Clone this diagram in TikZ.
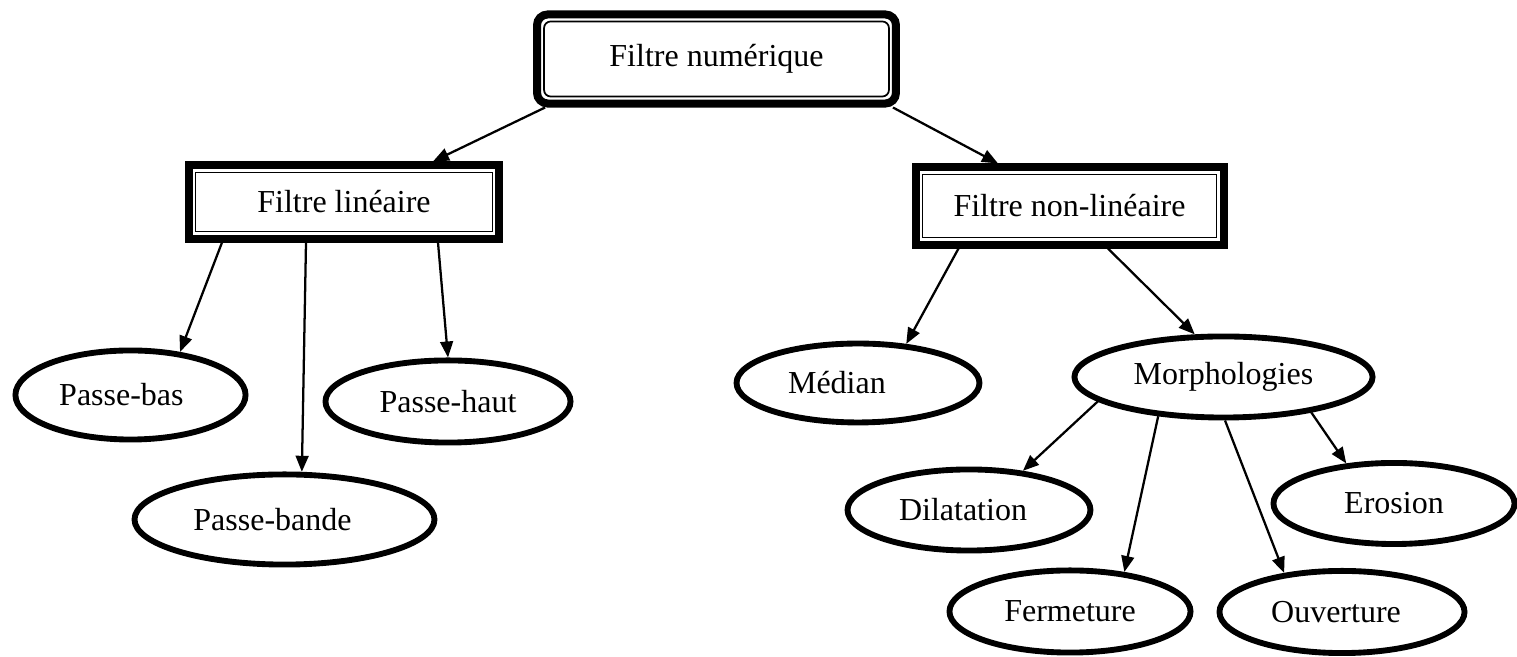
\documentclass[tikz,border=0pt]{standalone}
\usepackage{fontspec}
\setmainfont{Liberation Serif}
\usepackage{tikz}
\usetikzlibrary{arrows.meta}
\usetikzlibrary{shapes.geometric}
\usetikzlibrary{calc}
\tikzset{cadre/.style = {draw, line width = 3pt, inner sep = 0, font = \fontsize{12}{14}\selectfont}}
\tikzset{liseret/.style = {draw, line width = 0.65pt}}
\tikzset{bulle/.style = {draw, ellipse, line width = 2.2pt, inner sep = 0, font = \fontsize{12}{14}\selectfont}}
\tikzset{fleche/.style = {-{Triangle[length = 6pt, width = 4.8pt]}, line width = 0.85pt}}

\begin{document}
\begin{tikzpicture}[x = 0.375pt, y = -0.375pt]
    \useasboundingbox (0, 0) rectangle (1517, 657);

    % filtres
    \node [cadre, rounded corners = 4pt, minimum width = 134.6pt, minimum height = 33.4pt] (num) at (716.5, 59) {Filtre numérique};
    \node [cadre, minimum width = 116.6pt, minimum height = 27.4pt] (lin) at (344, 202) {Filtre linéaire};
    \node [cadre, minimum width = 115.5pt, minimum height = 28.9pt] (nonlin) at (1069.5, 206) {Filtre non-linéaire};

    \draw [liseret, rounded corners = 2.5pt] ($(num.north west) + (11, 11)$) rectangle ($(num.south east) - (11, 11)$);
    \foreach \n in {lin, nonlin}
      \draw [liseret] ($(\n.north west) + (11, 11)$) rectangle ($(\n.south east) - (11, 11)$);

    % lineaires
    \node [bulle, minimum width = 86.3pt, minimum height = 33.4pt] (pbas) at (130.5, 395) {\hspace*{-6.8pt}Passe-bas};
    \node [bulle, minimum width = 112.5pt, minimum height = 33.8pt] (pbande) at (284.5, 519.5) {\hspace*{-9pt}Passe-bande};
    \node [bulle, minimum width = 91.9pt, minimum height = 30.8pt] (phaut) at (448, 401.5) {Passe-haut};

    % non lineaires
    \node [bulle, minimum width = 91.1pt, minimum height = 29.6pt] (median) at (858, 383) {\hspace*{-15.8pt}Médian};
    \node [bulle, minimum width = 111.8pt, minimum height = 30.4pt] (morph) at (1223.5, 377) {Morphologies};
    \node [bulle, minimum width = 91.1pt, minimum height = 30.4pt] (dil) at (969, 510) {\hspace*{-4.5pt}Dilatation};
    \node [bulle, minimum width = 90.4pt, minimum height = 30.4pt] (eros) at (1394, 503.5) {Erosion};
    \node [bulle, minimum width = 90.4pt, minimum height = 30.8pt] (ferm) at (1070, 611.5) {Fermeture};
    \node [bulle, minimum width = 91.9pt, minimum height = 30.8pt] (ouv) at (1342, 612) {\hspace*{-4.5pt}Ouverture};

    \draw [fleche] ($(num.south west) + (12, 0)$) -- ($(lin.north) + (89, 0)$);
    \draw [fleche] ($(num.south east) + (-7, 0)$) -- ($(nonlin.north) + (-71.5, 0)$);

    \draw [fleche] ($(lin.south) + (-122, 0)$) -- (pbas.41);
    \draw [fleche] ($(lin.south) + (-38, 0)$) -- (pbande.70);
    \draw [fleche] ($(lin.south) + (94, 0)$) -- (phaut.north);

    \draw [fleche] ($(nonlin.south) + (-111, 0)$) -- (median.39);
    \draw [fleche] ($(nonlin.south) + (38.5, 0)$) -- (morph.124);

    \draw [fleche] (morph.-169) -- (dil.36);
    \draw [fleche] (morph.-149) -- (ferm.36);
    \draw [fleche] (morph.-88) -- (ouv.146);
    \draw [fleche] (morph.-22) -- (eros.140);
  \end{tikzpicture}
\end{document}
